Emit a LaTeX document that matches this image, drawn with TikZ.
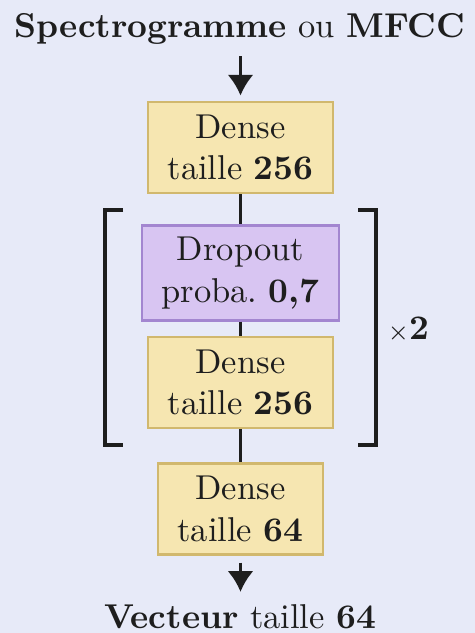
\documentclass[tikz,border=0pt]{standalone}
\usetikzlibrary{arrows.meta}
\definecolor{fond}{HTML}{E7EAF8}
\definecolor{jaune}{HTML}{F6E6B1}
\definecolor{jaunebord}{HTML}{D1B86E}
\definecolor{violet}{HTML}{D8C5F2}
\definecolor{violetbord}{HTML}{A386D0}
\definecolor{trait}{HTML}{1E1E1E}
\frenchspacing
\begin{document}
\begin{tikzpicture}[x=0.29pt, y=-0.29pt,
  couche/.style={draw, line width=0.7pt, align=center, inner xsep=5.7pt, minimum height=26.4pt, text=trait},
  densebox/.style={couche, fill=jaune, draw=jaunebord},
  dropbox/.style={couche, fill=violet, draw=violetbord},
  lien/.style={draw=trait, line width=0.9pt},
  fleche/.style={lien, -{Latex[length=6pt,width=7.5pt]}}]
\fill[fond] (0,0) rectangle (475,633);
\useasboundingbox (0,0) rectangle (475,633);

\node[anchor=base, text=trait] (entree) at (240,37) {\textbf{Spectrogramme} ou \textbf{MFCC}};
\node[densebox] (d1) at (240.5,147.5) {Dense\\taille \textbf{256}};
\node[dropbox] (drop) at (240.5,273) {Dropout\\proba. \textbf{0,7}};
\node[densebox] (d2) at (240.5,382.5) {Dense\\taille \textbf{256}};
\node[densebox] (d3) at (240.5,509) {Dense\\taille \textbf{64}};
\node[anchor=base, text=trait] (sortie) at (240,628) {\textbf{Vecteur} taille \textbf{64}};

\draw[fleche, shorten >=1.5pt] (entree.south -| d1.north) -- (d1.north);
\draw[lien] (d1) -- (drop);
\draw[lien] (drop) -- (d2);
\draw[lien] (d2) -- (d3);
\draw[fleche, shorten <=2pt] (d3.south) -- (sortie.north -| d3.south);

\draw[lien] (123,210) -- (105,210) -- (105,445) -- (123,445);
\draw[lien] (358,210) -- (376,210) -- (376,445) -- (358,445);
\node[anchor=base west, text=trait, inner sep=0pt] (rep) at (387,339) {$\scriptstyle\times$\textbf{2}};
\end{tikzpicture}
\end{document}
